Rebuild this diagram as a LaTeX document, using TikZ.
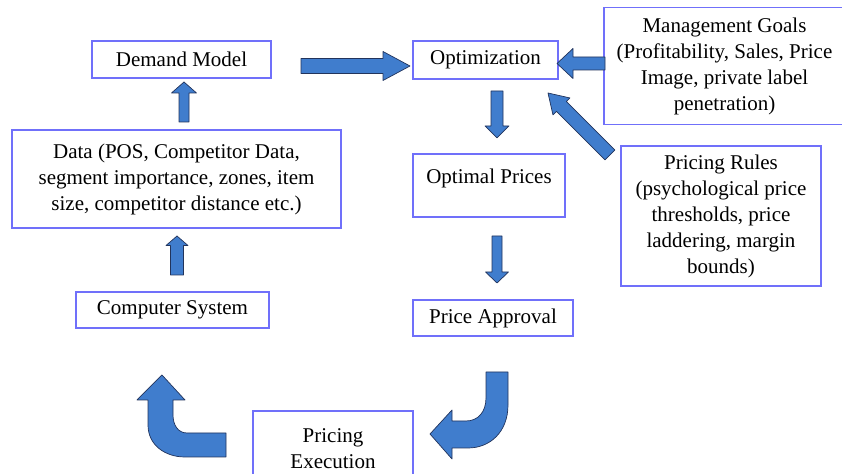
\documentclass[tikz,border=0pt]{standalone}
\usepackage{fontspec}
\setmainfont{Liberation Serif}
\usepackage{tikz}
\usetikzlibrary{calc, positioning}
\usepackage{xcolor}
\definecolor{cFrame}{RGB}{112,112,250}
\definecolor{cArrow}{RGB}{64,125,205}
\definecolor{cEdge}{RGB}{34,52,92}
\tikzset{
  basebox/.style={rectangle, draw=cFrame, line width=0.7pt, fill=white,
                  align=center, inner sep=1pt,
                  font=\fontsize{10.5}{13}\selectfont},
  blockarrow/.style={fill=cArrow, draw=cEdge, line width=0.35pt,
                     line join=round}
}
% straight block arrow: tail, tip, shaft half width, head half width, head length
\newcommand{\blockarrow}[5]{%
  \coordinate (ba) at ($(#2)!#5!(#1)$);
  \draw[blockarrow] ($(#1)!#3!90:(#2)$) -- ($(ba)!#3!90:(#2)$)
    -- ($(ba)!#4!90:(#2)$) -- (#2) -- ($(ba)!#4!-90:(#2)$)
    -- ($(ba)!#3!-90:(#2)$) -- ($(#1)!#3!-90:(#2)$) -- cycle;
}

\begin{document}
\begin{tikzpicture}[x=0.5pt, y=-0.5pt]
  \useasboundingbox (0,0) rectangle (842,474);

  % boxes
  \node[basebox, minimum width=89.5pt, minimum height=18.5pt] (demand) at (181.5,59.5) {Demand Model};
  \node[basebox, minimum width=72.5pt, minimum height=19pt] (optim) at (485.5,60) {Optimization};
  \node[basebox, minimum width=120.5pt, minimum height=58.5pt] (goals) at (724.5,66)
    {Management Goals\\(Profitability, Sales, Price\\Image, private label\\penetration)};
  \node[basebox, minimum width=164.5pt, minimum height=49pt] (data) at (176.5,179)
    {Data (POS, Competitor Data,\\segment importance, zones, item\\size, competitor distance etc.)};
  \node[basebox, minimum width=96.5pt, minimum height=18pt] (system) at (172.5,310) {Computer System};
  \node[basebox, minimum width=76pt, minimum height=31.5pt] (optprices) at (489,185.5)
    {Optimal Prices\\[-4pt]\mbox{}};
  \node[basebox, minimum width=80pt, minimum height=18pt] (approval) at (493,318) {Price Approval};
  \node[basebox, minimum width=100pt, minimum height=70pt] (rules) at (721,216)
    {Pricing Rules\\(psychological price\\thresholds, price\\laddering, margin\\bounds)};
  \node[basebox, minimum width=80pt, minimum height=38pt] (execution) at (333,449)
    {Pricing\\Execution};

  % arrow ends
  \coordinate (sysTail) at (177,275);   \coordinate (sysTip) at (177,236);
  \coordinate (dataTail) at (184,122);  \coordinate (dataTip) at (184,82);
  \coordinate (demTail) at (301,66);    \coordinate (demTip) at (410,66);
  \coordinate (goalTail) at (605,63.5); \coordinate (goalTip) at (557,63.5);
  \coordinate (optTail) at (497,91);    \coordinate (optTip) at (497,138);
  \coordinate (priceTail) at (497,236); \coordinate (priceTip) at (497,283);
  \coordinate (ruleTail) at (610,155);  \coordinate (ruleTip) at (548,93);

  \blockarrow{sysTail}{sysTip}{3.25pt}{5.5pt}{4.75pt}
  \blockarrow{dataTail}{dataTip}{2.5pt}{6.25pt}{5.5pt}
  \blockarrow{demTail}{demTip}{3.75pt}{7.25pt}{13.5pt}
  \blockarrow{goalTail}{goalTip}{3.25pt}{7.5pt}{8pt}
  \blockarrow{optTail}{optTip}{3pt}{6pt}{6pt}
  \blockarrow{priceTail}{priceTip}{2.5pt}{5.75pt}{5.5pt}
  \blockarrow{ruleTail}{ruleTip}{3.5pt}{6pt}{9.5pt}

  % bent arrows around the execution step
  \draw[blockarrow] (486,372) -- (508,372) -- (508,405)
    .. controls (508,432) and (490,448) .. (468,448)
    -- (452,448) -- (452,459) -- (430,434) -- (452,410) -- (452,421) -- (466,421)
    .. controls (478,421) and (486,412) .. (486,398) -- cycle;
  \draw[blockarrow] (226,433) -- (187,433)
    .. controls (178,433) and (173,425) .. (173,415)
    -- (173,400) -- (185,400) -- (162,375) -- (137,400) -- (148,400) -- (148,425)
    .. controls (148,445) and (165,457) .. (185,457) -- (226,457) -- cycle;
\end{tikzpicture}
\end{document}
